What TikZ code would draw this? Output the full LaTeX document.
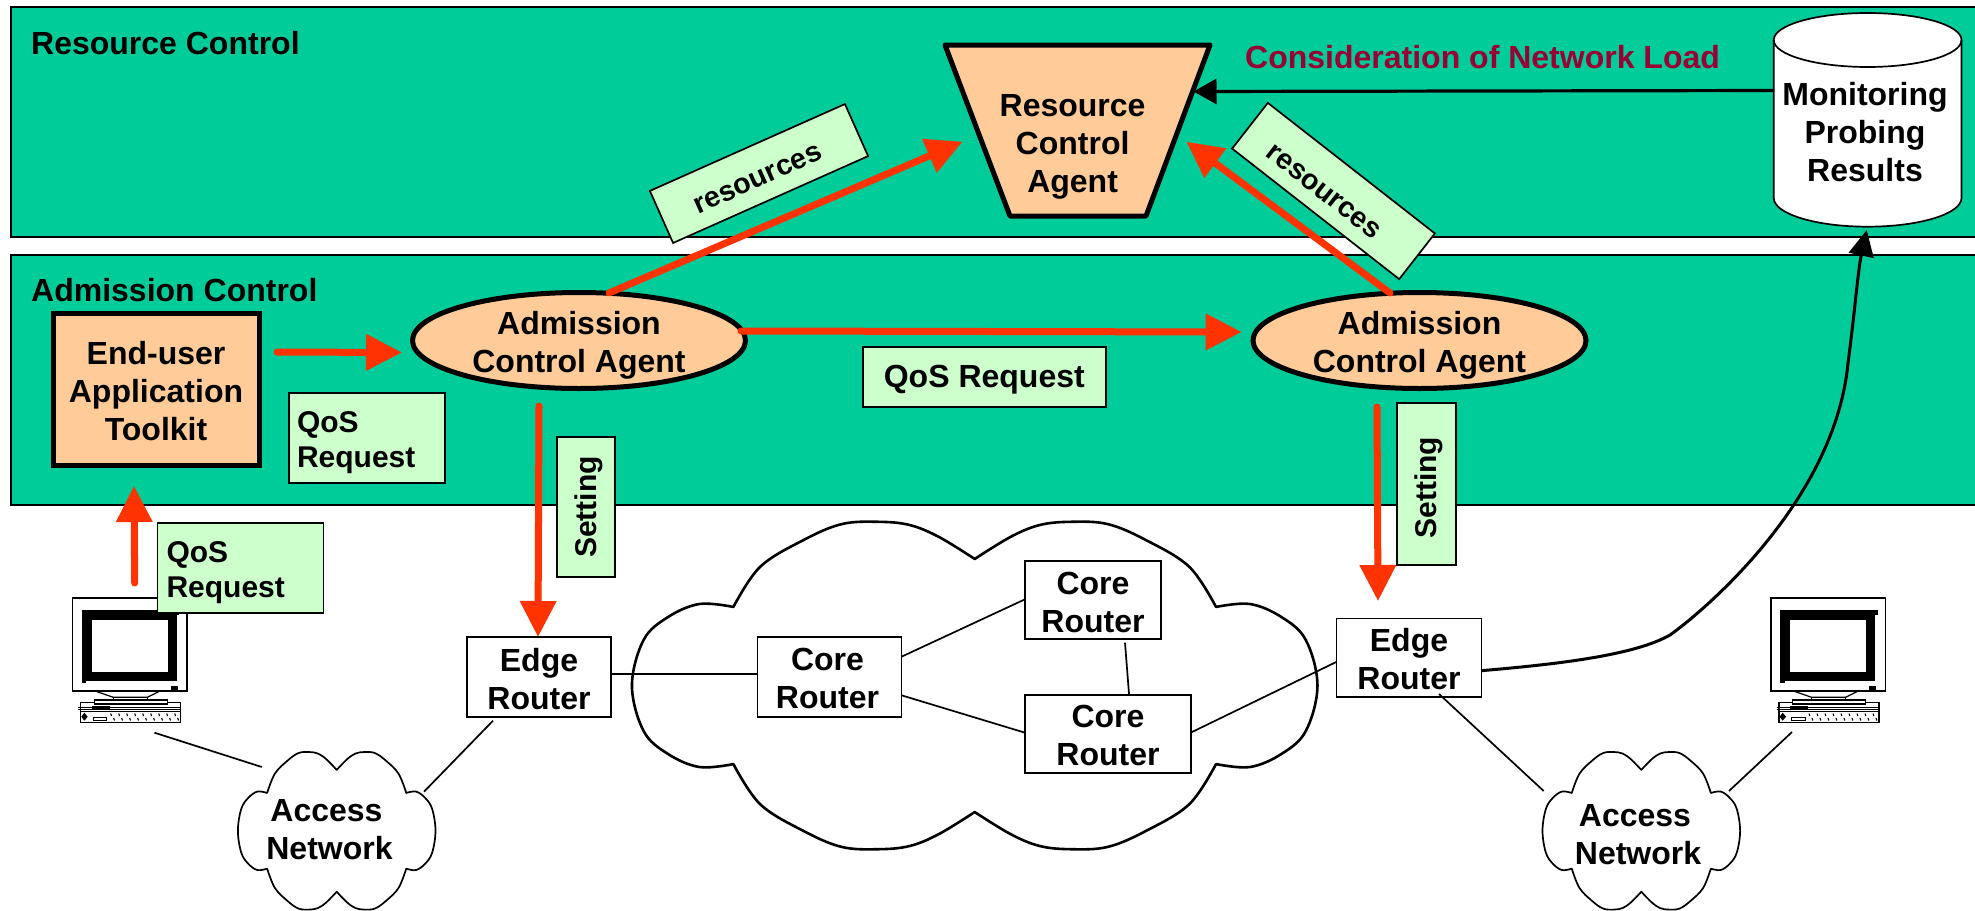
\documentclass[tikz,border=0pt]{standalone}
\usepackage{fontspec}
\setmainfont{Liberation Sans}
\usetikzlibrary{arrows.meta,shapes.geometric}
\definecolor{panelgreen}{HTML}{00CC99}
\definecolor{labelgreen}{HTML}{CCFFCC}
\definecolor{agentorange}{HTML}{FFCC99}
\definecolor{arrowred}{HTML}{FF3300}
\definecolor{maroontext}{HTML}{990033}
\lineskiplimit=-12pt
\newcommand\bigfont{\fontsize{32}{38}\selectfont\bfseries\lineskiplimit=-12pt}
\newcommand\labfont{\fontsize{30}{35}\selectfont\bfseries\lineskiplimit=-12pt}
\newcommand\resfont{\fontsize{28.7}{35}\selectfont\bfseries}
\newcommand\st{\rule[-6pt]{0pt}{38pt}}
\newcommand\stl{\rule[-5pt]{0pt}{35pt}}
\newcommand\cloudat[4]{%
 \begin{scope}[shift={(#1,#2)},xscale=#3,yscale=#4]
 \draw[fill=white,line width=\cloudlw,line join=round]
  plot[smooth,tension=.6] coordinates {(-.704,.48)(-.626,.725)(-.499,.889)(-.388,.986)(-.28,1)(-.189,.98)(-.104,.907)(0,.773)}
  -- plot[smooth,tension=.6] coordinates {(0,.773)(.104,.907)(.189,.98)(.28,1)(.388,.986)(.499,.889)(.626,.725)(.704,.48)}
  -- plot[smooth,tension=.6] coordinates {(.704,.48)(.803,.498)(.895,.418)(.966,.278)(1,0)(.966,-.278)(.895,-.418)(.803,-.498)(.704,-.48)}
  -- plot[smooth,tension=.6] coordinates {(.704,-.48)(.626,-.725)(.499,-.889)(.388,-.986)(.28,-1)(.189,-.98)(.104,-.907)(0,-.773)}
  -- plot[smooth,tension=.6] coordinates {(0,-.773)(-.104,-.907)(-.189,-.98)(-.28,-1)(-.388,-.986)(-.499,-.889)(-.626,-.725)(-.704,-.48)}
  -- plot[smooth,tension=.6] coordinates {(-.704,-.48)(-.803,-.498)(-.895,-.418)(-.966,-.278)(-1,0)(-.966,.278)(-.895,.418)(-.803,.498)(-.704,.48)}
  -- cycle;
 \end{scope}}
\newcommand\pcicon[1]{%
 \begin{scope}[shift={(#1,598)}]
 \draw[fill=white,line width=1.5] (0,0) rectangle (114.3,93);
 \fill[black] (9.3,12) rectangle (104.3,83);
 \fill[black] (104,12) rectangle (106.5,17);
 \fill[black] (9.3,83) rectangle (13.5,85);
 \fill[white] (19.3,22) rectangle (95.3,74);
 \fill[black] (98,87.5) rectangle (105,92);
 \draw[line width=1.2] (22.3,93) -- (40.6,99.3) -- (74.6,99.3) -- (87.3,93);
 \draw[line width=1.2] (40.6,99.3) -- (40.6,102) (74.6,99.3) -- (74.6,102);
 \draw[fill=white,line width=1.5] (7.9,104.7) rectangle (108,124.7);
 \draw[fill=white,line width=1.2] (21.7,102) rectangle (94.6,106);
 \draw[line width=1] (5.6,109.3) -- (107,109.3) (5.6,111.3) -- (107,111.3) (7.9,113.7) -- (108,113.7);
 \fill[black] (19,108.3) rectangle (37,112);
 \fill[black] (11.6,114.7) -- (15,118.7) -- (11.6,122.7) -- (8.6,118.7) -- cycle;
 \draw[line width=1] (20.6,119.3) rectangle (34,122.7);
 \foreach \kx in {38,46,...,102}{
  \draw[line width=1.1] (\kx,115.5) -- (\kx+.8,118);
  \draw[line width=1.1] (\kx+3,120) -- (\kx+3.8,122.5);
 }
 \end{scope}}
\tikzset{
 panel/.style={draw=black,fill=panelgreen,line width=2,inner sep=0},
 paneltitle/.style={anchor=base west,inner sep=0,font=\bigfont},
 agent/.style={draw=black,fill=agentorange,line width=5,inner sep=0,font=\bigfont,align=center},
 agentoval/.style={ellipse,agent,minimum width=333,minimum height=96,inner xsep=0,inner ysep=-10pt},
 rbox/.style 2 args={draw=black,fill=white,line width=1.7,inner sep=0,font=\bigfont,align=center,minimum width=#1,minimum height=#2},
 labbox/.style 2 args={draw=black,fill=labelgreen,line width=1.7,inner sep=0,font=\labfont,minimum width=#1,minimum height=#2},
 leftlab/.style={draw=black,fill=labelgreen,line width=1.7,inner ysep=0,inner xsep=9,font=\labfont,align=left,text width=148,minimum height=90},
 txt/.style={inner sep=0,font=\bigfont,align=center},
 redarrow/.style={draw=arrowred,line width=7,line cap=round,-{Triangle[length=36pt,width=35pt]},arrowred},
 blackarrow/.style={draw=black,line width=3,-{Triangle[length=26pt,width=25pt]}},
 wire/.style={draw=black,line width=1.7},
}
\begin{document}
\begin{tikzpicture}[x=1pt,y=-1pt]
\useasboundingbox (0,0) rectangle (1975,910);
\fill[white] (0,0) rectangle (1975,910);
% panels
\node[panel,minimum width=1967,minimum height=230] (rcpanel) at (994.5,122) {};
\node[panel,minimum width=1967,minimum height=250] (acpanel) at (994.5,380) {};
\node[paneltitle] (rctitle) at (31,54) {Resource Control};
\node[paneltitle] (actitle) at (31,301) {Admission Control};
\node[paneltitle,text=maroontext] (load) at (1245,68) {Consideration of Network Load};
% clouds
\def\cloudlw{2.6}
\cloudat{974.7}{685.5}{342.75}{163.7}
\def\cloudlw{1.7}
\cloudat{336.7}{830.8}{98.8}{78.8}
\cloudat{1641.3}{830.8}{98.8}{78.8}
\node[txt] (anL) at (328,827.7) {\st Access\kern 3pt\\\st\kern 3pt Network};
\node[txt] (anR) at (1636.5,832) {\st Access\kern 3pt\\\st\kern 3pt Network};
% computers
\pcicon{72.7}
\pcicon{1771}
% routers
\node[rbox={144}{80}] (erL) at (539,677) {\st Edge\\\st Router};
\node[rbox={145}{78.5}] (erR) at (1409,657.8) {\st Edge\\\st Router};
\node[rbox={144}{80}] (crA) at (829.5,676.7) {\st Core\kern 4pt\\\st Router\kern 4pt};
\node[rbox={136}{77.7}] (crB) at (1093,600) {\st Core\\\st Router};
\node[rbox={166}{77.7}] (crC) at (1108,733.8) {\st Core\\\st Router};
% wire ends
\coordinate (w1a) at (901.5,656.7); \coordinate (w1b) at (1025,599.3);
\coordinate (w2a) at (901.5,695.3); \coordinate (w2b) at (1025,732.7);
\coordinate (w3a) at (1125,642.7);  \coordinate (w3b) at (1129,694);
\coordinate (w4a) at (1191.4,732.3); \coordinate (w4b) at (1336.8,661.7);
\coordinate (w5a) at (493,720.7);   \coordinate (w5b) at (424,791.7);
\coordinate (w6a) at (154.5,732.7); \coordinate (w6b) at (261.8,767);
\coordinate (w7a) at (1439,694);    \coordinate (w7b) at (1543.7,791);
\coordinate (w8a) at (1792,732);    \coordinate (w8b) at (1729,791);
\coordinate (w9a) at (611,674.3);   \coordinate (w9b) at (757.5,674.3);
\draw[wire] (w9a) -- (w9b);
\draw[wire] (w1a) -- (w1b);
\draw[wire] (w2a) -- (w2b);
\draw[wire] (w3a) -- (w3b);
\draw[wire] (w4a) -- (w4b);
\draw[wire] (w5a) -- (w5b);
\draw[wire] (w6a) -- (w6b);
\draw[wire] (w7a) -- (w7b);
\draw[wire] (w8a) -- (w8b);
% agents
\node[agent,minimum width=206,minimum height=152] (eu) at (156,389) {\st End-user\\\st Application\\\st Toolkit};
\node[agentoval] (acL) at (579,340.5) {\st Admission\\\st Control Agent};
\node[agentoval] (acR) at (1419.5,340.5) {\st Admission\\\st Control Agent};
\draw[draw=black,fill=agentorange,line width=5,line join=round] (945,45) -- (1210,45) -- (1146,216) -- (1010,216) -- cycle;
\node[txt] (rca) at (1072.6,142) {\st Resource\\\st Control\\\st Agent};
% cylinder
\draw[draw=black,fill=white,line width=1.7] (1773.7,40) -- (1773.7,198) arc[start angle=180,end angle=360,x radius=93.9,y radius=-28.7] -- (1961.5,40) arc[start angle=0,end angle=180,x radius=93.9,y radius=-27] -- cycle;
\draw[draw=black,line width=1.7] (1773.7,40) arc[start angle=180,end angle=360,x radius=93.9,y radius=-27];
\node[txt] (mon) at (1865,130) {\st Monitoring\\\st Probing\\\st Results};
% labels
\node[leftlab,text width=140,inner xsep=8] (q1) at (367,438) {\stl QoS\\\stl Request};
\node[leftlab] (q2) at (240.5,568) {\stl QoS\\\stl Request};
\node[labbox={243}{60},font=\bigfont] (q3) at (984.3,377) {\rule[-7pt]{0pt}{34pt}QoS Request};
\node[labbox={140}{58},rotate=90] (s1) at (586,507) {\rule[-4pt]{0pt}{32pt}Setting};
\node[labbox={162}{59},rotate=90] (s2) at (1426.5,483.8) {\rule[-6pt]{0pt}{33pt}Setting\kern 8pt};
\node[labbox={213.5}{57},rotate=24,font=\resfont] (r1) at (759,173.5) {\rule[-2pt]{0pt}{29pt}resources\kern 6.4pt};
\node[labbox={212}{58},rotate=-38,font=\resfont] (r2) at (1333.5,191) {\rule[-1pt]{0pt}{31pt}resources\kern 14.6pt};
% arrow ends
\coordinate (a1s) at (277,352);    \coordinate (a1e) at (402,352.5);
\coordinate (a2s) at (134.7,583);  \coordinate (a2e) at (134,486);
\coordinate (a3s) at (609,293);    \coordinate (a3e) at (962.5,141.7);
\coordinate (a4s) at (741,331);    \coordinate (a4e) at (1241.7,332);
\coordinate (a5s) at (1390,293);   \coordinate (a5e) at (1186.4,141.7);
\coordinate (a6s) at (539,406);    \coordinate (a6e) at (538,637);
\coordinate (a7s) at (1377,407);   \coordinate (a7e) at (1378,601);
\draw[redarrow] (a1s) -- (a1e);
\draw[redarrow] (a2s) -- (a2e);
\draw[redarrow] (a3s) -- (a3e);
\draw[redarrow] (a4s) -- (a4e);
\draw[redarrow] (a5s) -- (a5e);
\draw[redarrow] (a6s) -- (a6e);
\draw[redarrow] (a7s) -- (a7e);
% black arrows
\coordinate (b1s) at (1774,90.5); \coordinate (b1e) at (1193.5,91.5);
\draw[draw=black,line width=3.2,-{Triangle[length=23pt,width=25pt]}] (b1s) -- (b1e);
\coordinate (b2s) at (1481,670.7); \coordinate (b2e) at (1866.7,230);
\draw[blackarrow] (b2s) .. controls (1560,664) and (1635,655) .. (1670,635) .. controls (1705,610) and (1835,500) .. (1848,363) .. controls (1855,310) and (1858,270) .. (b2e);
\end{tikzpicture}
\end{document}
